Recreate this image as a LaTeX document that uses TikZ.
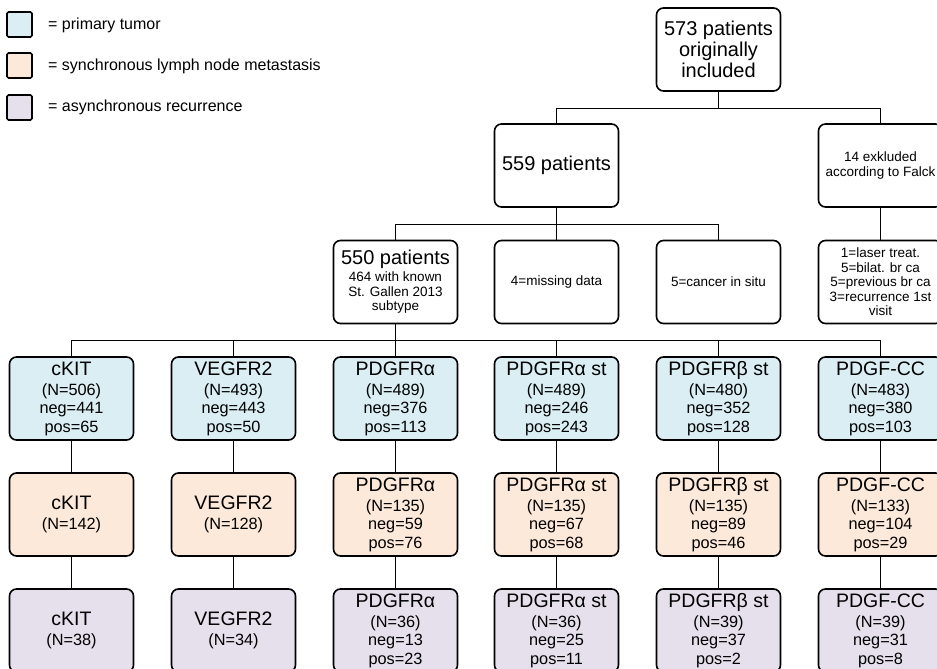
\documentclass[tikz,border=0pt]{standalone}
\usepackage{fontspec}
\setmainfont{Liberation Sans}
\definecolor{pblue}{HTML}{DAEEF3}
\definecolor{porange}{HTML}{FDE9D9}
\definecolor{ppurple}{HTML}{E5E0EC}
\newcommand\ttl{\fontsize{19.5}{20}\selectfont}
\newcommand\bigt{\fontsize{20}{21}\selectfont}
\begin{document}
\begin{tikzpicture}[x=1pt,y=-1pt,
  box/.style={draw=black, line width=1.6pt, rounded corners=7pt,
    minimum width=124pt, minimum height=83pt, inner sep=1pt, align=center,
    font=\fontsize{16.3}{18.5}\selectfont},
  bigbox/.style={box, font=\bigt},
  smallbox/.style={box, font=\fontsize{13.5}{14.5}\selectfont},
  legbox/.style={draw=black, line width=1.6pt, rounded corners=1.5pt,
    minimum width=25pt, minimum height=25pt, inner sep=0pt},
  legtext/.style={anchor=west, inner sep=0pt, font=\fontsize{16}{18}\selectfont},
  conn/.style={draw=black, line width=1.6pt}]
\clip (0,0) rectangle (937,669);
\fill[white] (0,0) rectangle (937,669);

% legend
\node[legbox, fill=pblue] (l1) at (19.5,24.5) {};
\node[legbox, fill=porange] (l2) at (19.5,65.5) {};
\node[legbox, fill=ppurple] (l3) at (19.5,107.5) {};
\node[legtext] (t1) at (48,25) {= primary tumor};
\node[legtext] (t2) at (48,66) {= synchronous lymph node metastasis};
\node[legtext] (t3) at (48,107) {= asynchronous recurrence};

% tree top
\node[bigbox] (top) at (718.5,49.5) {573 patients\\originally\\included};
\node[bigbox] (p559) at (556.5,165.5) {559 patients};
\node[smallbox] (excl) at (880.5,165.5) {14 exkluded\\according to Falck};

\node[smallbox] (p550) at (395.5,282) {{\bigt 550 patients}\\[2.5pt]464 with known\\St. Gallen 2013\\subtype};
\node[smallbox] (miss) at (556.5,282) {4=missing data};
\node[smallbox] (cis) at (718.5,282) {5=cancer in situ};
\node[smallbox] (det) at (880.5,282) {1=laser treat.\\5=bilat. br ca\\5=previous br ca\\3=recurrence 1st\\visit};

% primary tumor row
\node[box, fill=pblue] (b1) at (71.5,398.5) {{\ttl cKIT}\\[1.5pt](N=506)\\neg=441\\pos=65};
\node[box, fill=pblue] (b2) at (233.5,398.5) {{\ttl VEGFR2}\\[1.5pt](N=493)\\neg=443\\pos=50};
\node[box, fill=pblue] (b3) at (395.5,398.5) {{\ttl PDGFRα}\\[1.5pt](N=489)\\neg=376\\pos=113};
\node[box, fill=pblue] (b4) at (556.5,398.5) {{\ttl PDGFRα st}\\[1.5pt](N=489)\\neg=246\\pos=243};
\node[box, fill=pblue] (b5) at (718.5,398.5) {{\ttl PDGFRβ st}\\[1.5pt](N=480)\\neg=352\\pos=128};
\node[box, fill=pblue] (b6) at (880.5,398.5) {{\ttl PDGF-CC}\\[1.5pt](N=483)\\neg=380\\pos=103};

% synchronous row
\node[box, fill=porange] (o1) at (71.5,514.5) {{\ttl cKIT}\\[1.5pt](N=142)};
\node[box, fill=porange] (o2) at (233.5,514.5) {{\ttl VEGFR2}\\[1.5pt](N=128)};
\node[box, fill=porange] (o3) at (395.5,514.5) {{\ttl PDGFRα}\\[1.5pt](N=135)\\neg=59\\pos=76};
\node[box, fill=porange] (o4) at (556.5,514.5) {{\ttl PDGFRα st}\\[1.5pt](N=135)\\neg=67\\pos=68};
\node[box, fill=porange] (o5) at (718.5,514.5) {{\ttl PDGFRβ st}\\[1.5pt](N=135)\\neg=89\\pos=46};
\node[box, fill=porange] (o6) at (880.5,514.5) {{\ttl PDGF-CC}\\[1.5pt](N=133)\\neg=104\\pos=29};

% recurrence row
\node[box, fill=ppurple] (r1) at (71.5,630.5) {{\ttl cKIT}\\[1.5pt](N=38)};
\node[box, fill=ppurple] (r2) at (233.5,630.5) {{\ttl VEGFR2}\\[1.5pt](N=34)};
\node[box, fill=ppurple] (r3) at (395.5,630.5) {{\ttl PDGFRα}\\[1.5pt](N=36)\\neg=13\\pos=23};
\node[box, fill=ppurple] (r4) at (556.5,630.5) {{\ttl PDGFRα st}\\[1.5pt](N=36)\\neg=25\\pos=11};
\node[box, fill=ppurple] (r5) at (718.5,630.5) {{\ttl PDGFRβ st}\\[1.5pt](N=39)\\neg=37\\pos=2};
\node[box, fill=ppurple] (r6) at (880.5,630.5) {{\ttl PDGF-CC}\\[1.5pt](N=39)\\neg=31\\pos=8};

% junction levels
\coordinate (j1) at (0,108.5);
\coordinate (j2) at (0,224.5);
\coordinate (j3) at (0,340.5);

% connectors
\draw[conn] (top.south) -- (top.south |- j1);
\draw[conn] (p559.north) -- (p559.north |- j1) -- (excl.north |- j1) -- (excl.north);
\draw[conn] (p559.south) -- (p559.south |- j2);
\draw[conn] (p550.north) -- (p550.north |- j2) -- (cis.north |- j2) -- (cis.north);
\draw[conn] (miss.north) -- (miss.north |- j2);
\draw[conn] (excl.south) -- (det.north);
\draw[conn] (p550.south) -- (p550.south |- j3);
\draw[conn] (b1.north) -- (b1.north |- j3) -- (b6.north |- j3) -- (b6.north);
\foreach \i in {2,3,4,5} {
  \draw[conn] (b\i.north) -- (b\i.north |- j3);
}
\foreach \i in {1,...,6} {
  \draw[conn] (b\i.south) -- (o\i.north);
  \draw[conn] (o\i.south) -- (r\i.north);
}
\end{tikzpicture}
\end{document}
